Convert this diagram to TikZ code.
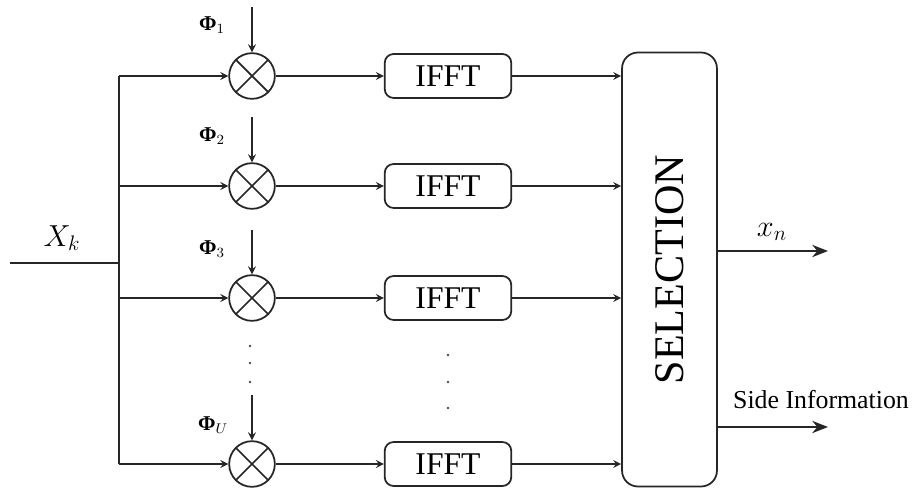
\documentclass[tikz,border=0pt]{standalone}
\usepackage{fontspec}
\setmainfont{Liberation Serif}
\usetikzlibrary{positioning, arrows, arrows.meta}

\begin{document}
\begin{tikzpicture}[->,>=stealth,x=0.02cm,y=-0.02cm,line width=1pt,
	draw=black!85]
	\tikzstyle{mult}=[draw,circle,minimum size=26pt,inner sep=0pt,
		path picture={\draw[-] (path picture bounding box.north west) -- (path picture bounding box.south east)
			(path picture bounding box.north east) -- (path picture bounding box.south west);}]
	\tikzstyle{fft}=[draw,rounded corners=5pt,minimum width=72pt,minimum height=25pt,
		inner sep=0pt,font=\fontsize{18}{18}\selectfont]
	\tikzstyle{phase}=[font=\fontsize{12}{12}\selectfont]
	\tikzstyle{dot}=[fill=black!70,circle,inner sep=0pt,minimum size=1.5pt]
	\useasboundingbox (0,0) rectangle (912,489);
	% bus and input
	\coordinate (in) at (10,263);
	\coordinate (bt) at (119,76);
	\coordinate (bb) at (119,464);
	\coordinate (bi) at (119,263);
	\draw[-] (in) -- (bi);
	\draw[-] (bt) -- (bb);
	\node[font=\fontsize{17}{17}\selectfont] (xk) at (62,238) {$X_k$};
	% multipliers
	\node[mult] (m1) at (252,76) {};
	\node[mult] (m2) at (252,186) {};
	\node[mult] (m3) at (252,298) {};
	\node[mult] (mu) at (252,464) {};
	% IFFT blocks
	\node[fft] (f1) at (448,76) {IFFT};
	\node[fft] (f2) at (448,186) {IFFT};
	\node[fft] (f3) at (448,298) {IFFT};
	\node[fft] (fu) at (448,464) {IFFT};
	% selection
	\node[draw,rounded corners=9pt,minimum width=54pt,minimum height=247pt,inner sep=0pt]
		(sel) at (669.5,269.5) {};
	\node[rotate=90,font=\fontsize{24}{24}\selectfont] (seltxt) at (sel.center) {SELECTION};
	% phase inputs
	\coordinate (p1) at (252,7);
	\coordinate (p2) at (252,117);
	\coordinate (p3) at (252,230);
	\coordinate (pu) at (252,395);
	\node[phase] (l1) at (212,25) {\textbf{Φ}$_1$};
	\node[phase] (l2) at (212,136) {\textbf{Φ}$_2$};
	\node[phase] (l3) at (212,249) {\textbf{Φ}$_3$};
	\node[phase] (lu) at (213,425) {\textbf{Φ}$_U$};
	\path
	(p1) edge (m1)
	(p2) edge (m2)
	(p3) edge (m3)
	(pu) edge (mu);
	% rows
	\draw (bt) -- (m1);
	\draw (bt |- m2) -- (m2);
	\draw (bt |- m3) -- (m3);
	\draw (bb) -- (mu);
	\path
	(m1) edge (f1)
	(m2) edge (f2)
	(m3) edge (f3)
	(mu) edge (fu)
	(f1) edge (f1 -| sel.west)
	(f2) edge (f2 -| sel.west)
	(f3) edge (f3 -| sel.west)
	(fu) edge (fu -| sel.west);
	% outputs
	\coordinate (o1) at (828,251);
	\coordinate (o2) at (828,427);
	\draw[-{Stealth[length=9pt,width=7pt]}] (o1 -| sel.east) -- (o1);
	\draw[-{Stealth[length=9pt,width=7pt]}] (o2 -| sel.east) -- (o2);
	\node[font=\fontsize{17}{17}\selectfont] (xn) at (772,232) {$x_n$};
	\node[font=\fontsize{14.7}{14.7}\selectfont] (si) at (821,400) {Side Information};
	% dots
	\node[dot] (d1) at (250,346) {};
	\node[dot] (d2) at (250,363) {};
	\node[dot] (d3) at (250,382) {};
	\node[dot] (d4) at (448,355) {};
	\node[dot] (d5) at (448,382) {};
	\node[dot] (d6) at (448,408) {};
\end{tikzpicture}
\end{document}
